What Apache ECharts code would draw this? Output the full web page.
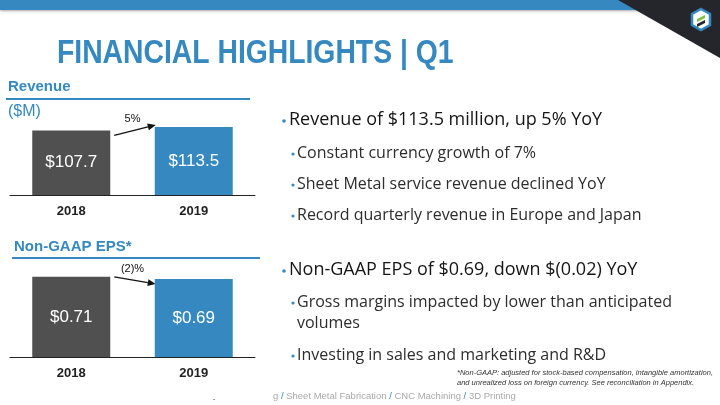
<!DOCTYPE html>
<html><head><meta charset="utf-8">
<script src="https://cdn.jsdelivr.net/npm/echarts@6/dist/echarts.min.js"></script>
<style>html,body{margin:0;padding:0;background:#fff}#c{width:720px;height:405px}</style>
</head><body><div id="c"></div>
<script>
// ---- data ----
const years = ['2018', '2019'];
const revenue = [107.7, 113.5];
const eps = [0.71, 0.69];
const changeLabels = ['5%', '(2)%'];
const title = 'FINANCIAL HIGHLIGHTS | Q1';
const bullets1 = ['Revenue of $113.5 million, up 5% YoY', 'Constant currency growth of 7%', 'Sheet Metal service revenue declined YoY', 'Record quarterly revenue in Europe and Japan'];
const bullets2 = ['Non-GAAP EPS of $0.69, down $(0.02) YoY', 'Gross margins impacted by lower than anticipated', 'volumes', 'Investing in sales and marketing and R&D'];
const footnote = ['*Non-GAAP: adjusted for stock-based compensation, intangible amortization,', 'and unrealized loss on foreign currency. See reconciliation in Appendix.'];
const navItems = ['g', 'Sheet Metal Fabrication', 'CNC Machining', '3D Printing'];

const BLUE = '#3589c0', DARK = '#505050';
const FONT = '"Liberation Sans", Arial, sans-serif';
const BFONT = '"Open Sans", "Liberation Sans", sans-serif';
const chart = echarts.init(document.getElementById('c'));
const barW = 78;

function barSeries(data, xi, digits, color2) {
  return {
    type: 'bar', xAxisIndex: xi, yAxisIndex: xi, barWidth: barW,
    data: data.map((v, i) => ({ value: v, itemStyle: { color: i === 0 ? DARK : color2 } })),
    label: { show: true, position: 'inside', color: '#fff', fontFamily: FONT, fontSize: 17,
      formatter: p => '$' + p.value.toFixed(digits) },
    animation: false
  };
}
function xAx(gi) {
  return { type: 'category', gridIndex: gi, data: years,
    axisLine: { lineStyle: { color: '#222', width: 1 } }, axisTick: { show: false },
    axisLabel: { color: '#222', fontFamily: FONT, fontWeight: 'bold', fontSize: 13, margin: 10 } };
}
function yAx(gi, max) {
  return { type: 'value', gridIndex: gi, min: 0, max: max, show: false, splitLine: { show: false } };
}

function txt(text, x, y, font, fill, extra) {
  return { type: 'text', silent: true, style: Object.assign({ text, x, y, font, fill, verticalAlign: 'middle' }, extra || {}) };
}

const graphics = [
  // banner
  { type: 'rect', shape: { x: 0, y: 0, width: 640, height: 10 }, style: { fill: BLUE, shadowBlur: 3, shadowColor: 'rgba(0,0,0,0.35)', shadowOffsetY: 1 } },
  { type: 'polygon', shape: { points: [[618, 0], [720, 0], [720, 58]] }, style: { fill: '#25262b' } },
  // logo
  { type: 'polygon', shape: { points: [[701, 9], [710, 14], [710, 25], [701, 30], [692, 25], [692, 14]] }, style: { fill: '#fff', stroke: BLUE, lineWidth: 2.5 } },
  { type: 'polygon', shape: { points: [[697, 19], [705, 15], [705, 18], [697, 22]] }, style: { fill: '#7dc142' } },
  { type: 'polygon', shape: { points: [[697, 24], [705, 20], [705, 23], [697, 27]] }, style: { fill: '#25262b' } },
  // title (condensed via horizontal scale)
  { type: 'text', silent: true, x: 57, y: 54, scaleX: 0.858,
    style: { text: title, x: 0, y: 0, verticalAlign: 'middle', font: 'bold 33px "Liberation Sans", sans-serif', fill: BLUE } },
  // revenue header
  txt('Revenue', 8, 87, 'bold 15px ' + FONT, BLUE),
  { type: 'rect', shape: { x: 6, y: 98, width: 244, height: 2 }, style: { fill: BLUE } },
  txt('($M)', 8, 112, '16px ' + FONT, BLUE),
  // eps header
  txt('Non-GAAP EPS*', 14, 247, 'bold 15px ' + FONT, BLUE),
  { type: 'rect', shape: { x: 12, y: 257, width: 248, height: 2 }, style: { fill: BLUE } },
  // footnote
  txt(footnote[0], 457, 373, 'italic 7.5px ' + FONT, '#333'),
  txt(footnote[1], 457, 383, 'italic 7.5px ' + FONT, '#333'),
  // nav footer
  { type: 'text', silent: true, style: { x: 273, y: 396, verticalAlign: 'middle',
      text: navItems.map((s, i) => (i ? '{s| / }' : '') + '{t|' + s + '}').join(''),
      rich: { t: { font: '9.5px ' + FONT, fill: '#a9a9a9' }, s: { font: '9.5px ' + FONT, fill: BLUE } } } },
  { type: 'rect', shape: { x: 213, y: 399, width: 2, height: 1 }, style: { fill: '#999' } }
];

function bulletBlock(lines, ys) {
  const out = [];
  lines.forEach((t, i) => {
    const main = i === 0;
    const cont = (t === 'volumes');
    const x = main ? 282 : 291;
    const y = ys[i];
    if (!cont) out.push({ type: 'circle', shape: { cx: x + 2, cy: y + 1, r: main ? 1.8 : 1.6 }, style: { fill: BLUE } });
    out.push(txt(t, main ? 289 : 297, y, (main ? '18px ' : '16px ') + BFONT, main ? '#151515' : '#2d2d2d'));
  });
  return out;
}
graphics.push(...bulletBlock(bullets1, [120, 153, 184, 215]));
graphics.push(...bulletBlock(bullets2, [270, 302, 323, 355]));

chart.setOption({
  animation: false,
  grid: [
    { left: 10, top: 105, width: 245, height: 90 },
    { left: 10, top: 244, width: 245, height: 113 }
  ],
  xAxis: [xAx(0), xAx(1)],
  yAxis: [yAx(0, 150), yAx(1, 1.0)],
  series: [barSeries(revenue, 0, 1, BLUE), barSeries(eps, 1, 2, BLUE)],
  graphic: graphics
});

// change arrows, positioned from data
function arrow(gi, data, label, dy1, dy2) {
  const a = chart.convertToPixel({ gridIndex: gi }, [years[0], data[0]]);
  const b = chart.convertToPixel({ gridIndex: gi }, [years[1], data[1]]);
  const x1 = a[0] + barW / 2 + 4, y1 = a[1] + dy1;
  const x2 = b[0] - barW / 2 + 1, y2 = b[1] + dy2;
  const ang = Math.atan2(y2 - y1, x2 - x1);
  const L = 8, W = 3.5;
  const bx = x2 - L * Math.cos(ang), by = y2 - L * Math.sin(ang);
  const px = -Math.sin(ang) * W, py = Math.cos(ang) * W;
  return [
    { type: 'line', shape: { x1, y1, x2: bx, y2: by }, style: { stroke: '#111', lineWidth: 1.3 } },
    { type: 'polygon', shape: { points: [[x2, y2], [bx + px, by + py], [bx - px, by - py]] }, style: { fill: '#111' } },
    txt(label, (a[0] + b[0]) / 2, Math.min(a[1], b[1]) - 8, '11px ' + FONT, '#111', { align: 'center' })
  ];
}
const extra = [].concat(arrow(0, revenue, changeLabels[0], 5, -2), arrow(1, eps, changeLabels[1], 0, 5));
chart.setOption({ graphic: graphics.concat(extra) }, { replaceMerge: ['graphic'] });
</script>
</body></html>
